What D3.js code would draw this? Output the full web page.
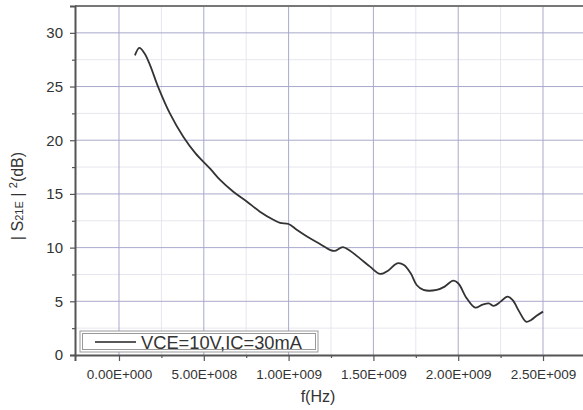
<!DOCTYPE html>
<html>
<head>
<meta charset="utf-8">
<script src="https://cdn.jsdelivr.net/npm/d3@7"></script>
<style>
  body { margin: 0; background: #fff; }
  svg { display: block; font-family: "Liberation Sans", Arial, sans-serif; }
</style>
</head>
<body>
<svg id="chart" width="583" height="410"></svg>
<script>
// frequency points (Hz) and |S21E|^2 (dB)
const freq = [0.94e8, 1.2e8, 1.5e8, 1.83e8, 2.3e8, 3.0e8, 3.8e8, 4.5e8, 5.4e8, 5.96e8,
  6.74e8, 7.53e8, 8.31e8, 9.1e8, 9.5e8, 10.0e8, 10.5e8, 11.26e8, 11.85e8, 12.44e8,
  12.7e8, 13.2e8, 13.6e8, 14.2e8, 14.8e8, 15.4e8, 15.9e8, 16.4e8, 16.8e8, 17.2e8,
  17.55e8, 17.95e8, 18.73e8, 19.2e8, 19.7e8, 20.0e8, 20.5e8, 21.0e8, 21.4e8, 21.8e8,
  22.1e8, 22.5e8, 22.9e8, 23.2e8, 23.6e8, 24.0e8, 24.3e8, 24.6e8, 25.0e8];
const s21 = [27.9, 28.6, 28.1, 27.0, 25.0, 22.5, 20.3, 18.8, 17.3, 16.3,
  15.2, 14.3, 13.35, 12.6, 12.3, 12.2, 11.65, 10.87, 10.34, 9.79,
  9.69, 10.04, 9.73, 9.0, 8.23, 7.55, 7.9, 8.54, 8.39, 7.61,
  6.52, 6.06, 6.06, 6.37, 6.93, 6.68, 5.28, 4.41, 4.66, 4.81,
  4.57, 4.97, 5.44, 5.13, 4.04, 3.1, 3.26, 3.63, 4.04];

const xTicks = [0, 5e8, 1e9, 1.5e9, 2e9, 2.5e9];
const xMinor = [2.5e8, 7.5e8, 1.25e9, 1.75e9, 2.25e9, 2.75e9];
const yTicks = [0, 5, 10, 15, 20, 25, 30];
const yMinor = [2.5, 7.5, 12.5, 17.5, 22.5, 27.5];
const legendLabel = "VCE=10V,IC=30mA";

const svg = d3.select("#chart");
const mLeft = 75, mRight = 600, mTop = 6, mBottom = 355;

const x = d3.scaleLinear().domain([-2.594e8, 2.836e9]).range([mLeft, mRight]);
const y = d3.scaleLinear().domain([0, 32.5]).range([mBottom, mTop]);

// format like 1.50E+009
function sci(v) {
  if (v === 0) return "0.00E+000";
  const e = Math.floor(Math.log10(Math.abs(v)));
  const m = v / Math.pow(10, e);
  return m.toFixed(2) + "E+" + String(e).padStart(3, "0");
}

// minor grid
svg.append("g").selectAll("line").data(xMinor).join("line")
  .attr("x1", d => x(d)).attr("x2", d => x(d)).attr("y1", mTop).attr("y2", mBottom)
  .attr("stroke", "#e6e6ef").attr("stroke-width", 1);
svg.append("g").selectAll("line").data(yMinor).join("line")
  .attr("x1", mLeft).attr("x2", mRight).attr("y1", d => y(d)).attr("y2", d => y(d))
  .attr("stroke", "#e6e6ef").attr("stroke-width", 1);

// major grid
svg.append("g").selectAll("line").data(xTicks).join("line")
  .attr("x1", d => x(d)).attr("x2", d => x(d)).attr("y1", mTop).attr("y2", mBottom)
  .attr("stroke", "#a9a9cc").attr("stroke-width", 1);
svg.append("g").selectAll("line").data(yTicks.slice(1)).join("line")
  .attr("x1", mLeft).attr("x2", mRight).attr("y1", d => y(d)).attr("y2", d => y(d))
  .attr("stroke", "#a9a9cc").attr("stroke-width", 1);

// top frame line
svg.append("line").attr("x1", mLeft).attr("x2", mRight).attr("y1", mTop).attr("y2", mTop)
  .attr("stroke", "#777").attr("stroke-width", 2);

// axes
const yAxis = svg.append("g").attr("transform", `translate(${mLeft},0)`)
  .call(d3.axisLeft(y).tickValues(yTicks).tickSize(5).tickPadding(7).tickFormat(d3.format("d")));
svg.append("g").attr("transform", `translate(${mLeft},0)`)
  .call(d3.axisLeft(y).tickValues(yMinor).tickSize(3).tickFormat(""))
  .select(".domain").remove();

const xAxis = svg.append("g").attr("transform", `translate(0,${mBottom})`)
  .call(d3.axisBottom(x).tickValues(xTicks).tickSize(6).tickPadding(8).tickFormat(sci));
svg.append("g").attr("transform", `translate(0,${mBottom})`)
  .call(d3.axisBottom(x).tickValues(xMinor).tickSize(3).tickFormat(""))
  .select(".domain").remove();

svg.selectAll(".domain").attr("stroke", "#555").attr("stroke-width", 2);
svg.selectAll(".tick line").attr("stroke", "#555").attr("stroke-width", 1.2);
yAxis.selectAll("text").attr("font-size", 15).attr("fill", "#333");
xAxis.selectAll("text").attr("font-size", 13.5).attr("fill", "#333");

// curve
const pts = freq.map((f, i) => [f, s21[i]]);
svg.append("path").datum(pts)
  .attr("fill", "none").attr("stroke", "#333").attr("stroke-width", 1.8)
  .attr("d", d3.line().x(d => x(d[0])).y(d => y(d[1])).curve(d3.curveCatmullRom));

// legend
const lg = svg.append("g");
lg.append("rect").attr("x", 80).attr("y", 331).attr("width", 238).attr("height", 21)
  .attr("fill", "#fff").attr("stroke", "#999").attr("stroke-width", 1);
lg.append("rect").attr("x", 82.5).attr("y", 333.5).attr("width", 233).attr("height", 16)
  .attr("fill", "none").attr("stroke", "#999").attr("stroke-width", 1);
lg.append("line").attr("x1", 95).attr("x2", 136).attr("y1", 342).attr("y2", 342)
  .attr("stroke", "#222").attr("stroke-width", 1.5);
lg.append("text").attr("x", 141).attr("y", 349).attr("font-size", 18.3).attr("fill", "#333")
  .text(legendLabel);

// axis titles
svg.append("text").attr("x", 318).attr("y", 402).attr("text-anchor", "middle")
  .attr("font-size", 16).attr("fill", "#333").text("f(Hz)");

const yl = svg.append("text").attr("transform", "translate(23,196) rotate(-90)")
  .attr("text-anchor", "middle").attr("font-size", 16).attr("fill", "#333");
yl.append("tspan").text("| S");
yl.append("tspan").attr("font-size", 11).text("21E");
yl.append("tspan").text(" | ");
yl.append("tspan").attr("font-size", 11).attr("dy", -6).text("2");
yl.append("tspan").attr("dy", 6).text("(dB)");
</script>
</body>
</html>
